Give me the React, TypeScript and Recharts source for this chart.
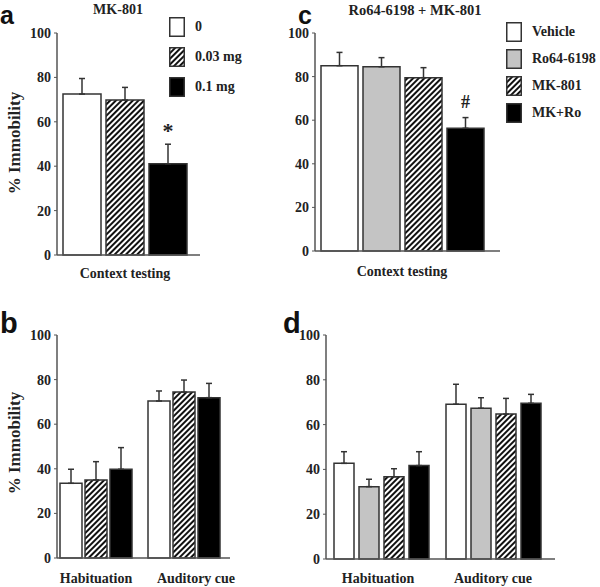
import React from "react";
import { BarChart, Bar, XAxis, YAxis, ErrorBar, LabelList } from "recharts";

const SERIF = '"Liberation Serif", "Times New Roman", serif';
const SANS = '"Liberation Sans", Arial, sans-serif';

// panel a – MK-801 doses, context test
const aCategories = ["Context testing"];
const aSeries = ["0", "0.03 mg", "0.1 mg"];
const aMeans = [[72.5], [69.8], [41.1]];
const aErrors = [[7.0], [5.7], [8.8]];
const aMarks = [[""], [""], ["*"]];

// panel b – same doses, habituation / auditory cue
const bCategories = ["Habituation", "Auditory cue"];
const bMeans = [
  [33.5, 70.4],
  [35.0, 74.4],
  [39.8, 71.9],
];
const bErrors = [
  [6.3, 4.5],
  [8.2, 5.4],
  [9.7, 6.4],
];

// panel c – Ro64-6198 + MK-801, context test
const cCategories = ["Context testing"];
const cSeries = ["Vehicle", "Ro64-6198", "MK-801", "MK+Ro"];
const cMeans = [[85.0], [84.5], [79.5], [56.3]];
const cErrors = [[6.1], [4.2], [4.6], [4.9]];
const cMarks = [[""], [""], [""], ["#"]];

// panel d – habituation / auditory cue
const dCategories = ["Habituation", "Auditory cue"];
const dMeans = [
  [42.7, 69.1],
  [32.3, 67.3],
  [36.7, 64.7],
  [41.7, 69.5],
];
const dErrors = [
  [5.2, 8.9],
  [3.3, 4.7],
  [3.6, 7.0],
  [6.2, 4.0],
];

const yTicks = [0, 20, 40, 60, 80, 100];

const doseFills = ["#ffffff", "hatch", "#000000"];
const comboFills = ["#ffffff", "#c4c4c4", "hatch", "#000000"];

function buildRows(cats: string[], means: number[][], errors: number[][], marks?: string[][]) {
  return cats.map((name, ci) => {
    const row: any = { name };
    means.forEach((m, si) => {
      row[`m${si}`] = m[ci];
      row[`e${si}`] = [0, errors[si][ci]];
      row[`k${si}`] = marks ? marks[si][ci] : "";
    });
    return row;
  });
}

const tickStyle = { fill: "#222", fontFamily: SERIF, fontWeight: 700, fontSize: 14 };

function Hatch({ id }: { id: string }) {
  return (
    <pattern id={id} patternUnits="userSpaceOnUse" width={4} height={4} patternTransform="rotate(45)">
      <rect width={4} height={4} fill="#fff" />
      <rect width={2} height={4} fill="#111" />
    </pattern>
  );
}

type PanelProps = {
  id: string;
  left: number;
  top: number;
  width: number;
  height: number;
  margin: { top: number; right: number; bottom: number; left: number };
  xHeight: number;
  tickMargin: number;
  padding: { left: number; right: number };
  barSize: number;
  barGap: number;
  rows: any[];
  fills: string[];
  markOffset?: number;
  labelShift?: number[];
};

function Panel(p: PanelProps) {
  const hatchId = `hatch-${p.id}`;
  const shift = p.labelShift || [];
  return (
    <div style={{ position: "absolute", left: p.left, top: p.top }}>
      <BarChart width={p.width} height={p.height} data={p.rows} margin={p.margin} barSize={p.barSize} barGap={p.barGap}>
        <defs>
          <Hatch id={hatchId} />
        </defs>
        <XAxis
          dataKey="name"
          height={p.xHeight}
          tickLine={false}
          tickSize={0}
          tickMargin={p.tickMargin}
          padding={p.padding}
          axisLine={{ stroke: "#555", strokeWidth: 1.5 }}
          interval={0}
          tick={(tp: any) => (
            <text
              x={tp.x + (shift[tp.index] || 0)}
              y={tp.y}
              dy="0.71em"
              textAnchor="middle"
              {...tickStyle}
            >
              {tp.payload.value}
            </text>
          )}
        />
        <YAxis
          type="number"
          domain={[0, 100]}
          ticks={yTicks}
          interval={0}
          width={57}
          tickSize={3}
          tickMargin={3}
          axisLine={{ stroke: "#555", strokeWidth: 1.5 }}
          tickLine={{ stroke: "#555" }}
          tick={tickStyle}
        />
        {p.fills.map((f, i) => (
          <Bar
            key={i}
            dataKey={`m${i}`}
            fill={f === "hatch" ? `url(#${hatchId})` : f}
            stroke="#333"
            strokeWidth={1.5}
            isAnimationActive={false}
          >
            <ErrorBar dataKey={`e${i}`} width={3} stroke="#333" strokeWidth={1.5} direction="y" />
            <LabelList
              dataKey={`k${i}`}
              content={(lp: any) =>
                lp.value ? (
                  <text
                    x={lp.x + lp.width / 2}
                    y={lp.y - (p.markOffset || 0)}
                    textAnchor="middle"
                    dominantBaseline="central"
                    fontFamily={SERIF}
                    fontWeight={700}
                    fontSize={lp.value === "*" ? 22 : 18}
                    fill="#222"
                  >
                    {lp.value}
                  </text>
                ) : null
              }
            />
          </Bar>
        ))}
      </BarChart>
    </div>
  );
}

function LegendBox({ fill, id }: { fill: string; id: string }) {
  return (
    <svg width={16} height={20} style={{ display: "block" }}>
      <defs>
        <Hatch id={id} />
      </defs>
      <rect
        x={0.75}
        y={0.75}
        width={14.5}
        height={18.5}
        fill={fill === "hatch" ? `url(#${id})` : fill}
        stroke="#333"
        strokeWidth={1.5}
      />
    </svg>
  );
}

function Legend({ left, top, step, labels, fills, id, gap }: any) {
  return (
    <>
      {labels.map((label: string, i: number) => (
        <div
          key={label}
          style={{ position: "absolute", left, top: top + i * step, display: "flex", alignItems: "center" }}
        >
          <LegendBox fill={fills[i]} id={`${id}-${i}`} />
          <span
            style={{
              marginLeft: gap,
              fontFamily: SERIF,
              fontWeight: 700,
              fontSize: 14,
              color: "#222",
              whiteSpace: "nowrap",
            }}
          >
            {label}
          </span>
        </div>
      ))}
    </>
  );
}

const txt = (extra: any) => ({
  position: "absolute" as const,
  fontFamily: SERIF,
  fontWeight: 700,
  fontSize: 14,
  lineHeight: "14px",
  color: "#222",
  whiteSpace: "nowrap" as const,
  ...extra,
});

const letter = (left: number, top: number, size = 30) => ({
  position: "absolute" as const,
  left,
  top,
  fontFamily: SANS,
  fontWeight: 700,
  fontSize: size,
  lineHeight: "20px",
  color: "#111",
});

function YLabel({ cx, cy }: { cx: number; cy: number }) {
  return (
    <div
      style={{
        position: "absolute",
        left: cx - 60,
        top: cy - 9,
        width: 120,
        textAlign: "center",
        fontFamily: SERIF,
        fontWeight: 700,
        fontSize: 17,
        lineHeight: "18px",
        color: "#222",
        transform: "rotate(-90deg)",
      }}
    >
      % Immobility
    </div>
  );
}

export default function App() {
  const aRows = buildRows(aCategories, aMeans, aErrors, aMarks);
  const bRows = buildRows(bCategories, bMeans, bErrors);
  const cRows = buildRows(cCategories, cMeans, cErrors, cMarks);
  const dRows = buildRows(dCategories, dMeans, dErrors);

  return (
    <div style={{ position: "absolute", left: 0, top: 0, width: 600, height: 587, background: "#fff", overflow: "hidden" }}>
      <Panel
        id="a"
        left={0}
        top={0}
        width={210}
        height={290}
        margin={{ top: 33, right: 10, bottom: 5, left: 0 }}
        xHeight={30}
        tickMargin={13}
        padding={{ left: 0, right: 7 }}
        barSize={38}
        barGap={5}
        rows={aRows}
        fills={doseFills}
        markOffset={33}
      />
      <Panel
        id="c"
        left={258}
        top={0}
        width={252}
        height={290}
        margin={{ top: 33, right: 10, bottom: 9, left: 0 }}
        xHeight={30}
        tickMargin={15}
        padding={{ left: 0, right: 11 }}
        barSize={37}
        barGap={5}
        rows={cRows}
        fills={comboFills}
        markOffset={26}
      />
      <Panel
        id="b"
        left={0}
        top={300}
        width={240}
        height={287}
        margin={{ top: 35, right: 10, bottom: 1, left: 0 }}
        xHeight={28}
        tickMargin={15}
        padding={{ left: -5, right: 2 }}
        barSize={22}
        barGap={3}
        rows={bRows}
        fills={doseFills}
        labelShift={[0, 12]}
      />
      <Panel
        id="d"
        left={269}
        top={300}
        width={296}
        height={287}
        margin={{ top: 35, right: 10, bottom: 0, left: 0 }}
        xHeight={28}
        tickMargin={14}
        padding={{ left: -1, right: 6 }}
        barSize={20}
        barGap={5}
        rows={dRows}
        fills={comboFills}
        labelShift={[-3, 0]}
      />

      <div style={letter(0, 4.5, 25)}>a</div>
      <div style={letter(298, 4.5, 25)}>c</div>
      <div style={letter(0, 313, 29)}>b</div>
      <div style={letter(283, 313, 29)}>d</div>

      <div style={txt({ left: 58, width: 120, top: 3, textAlign: "center" })}>MK-801</div>
      <div style={txt({ left: 335, width: 160, top: 3, textAlign: "center", fontSize: 14.5 })}>Ro64-6198 + MK-801</div>

      <YLabel cx={15} cy={143} />
      <YLabel cx={15} cy={443} />

      <Legend left={169} top={17} step={30} labels={aSeries} fills={doseFills} id="lga" gap={10} />
      <Legend left={506} top={22} step={27} labels={cSeries} fills={comboFills} id="lgc" gap={10} />
    </div>
  );
}
